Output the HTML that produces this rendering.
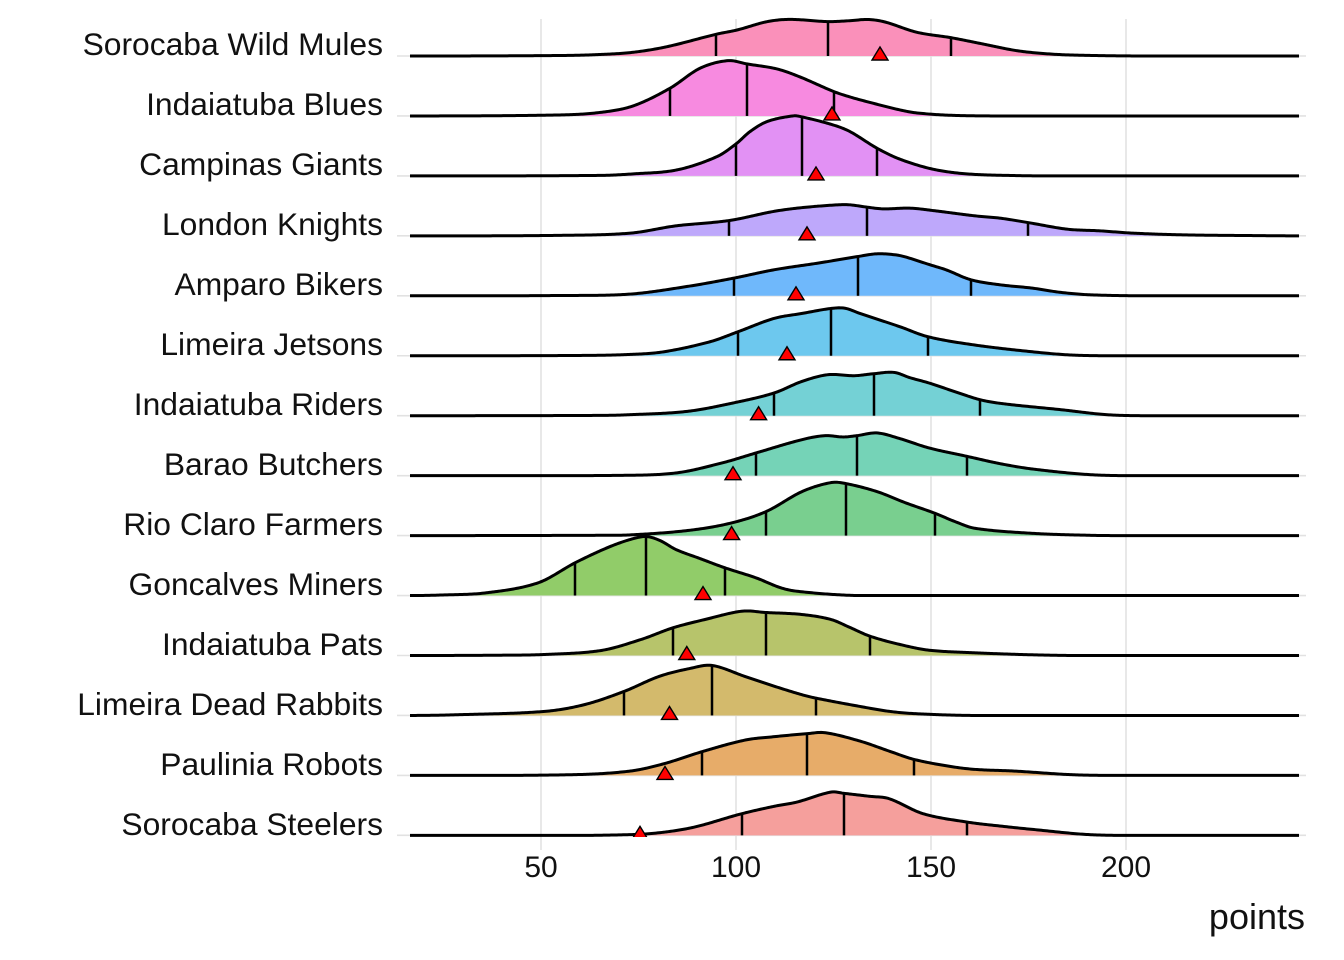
<!DOCTYPE html>
<html><head><meta charset="utf-8">
<style>
html,body{margin:0;padding:0;background:#fff}
svg{display:block}
text{font-family:"Liberation Sans",Arial,sans-serif;fill:#111}
</style></head>
<body>
<svg id="s" width="1344" height="960" viewBox="0 0 1344 960" xmlns="http://www.w3.org/2000/svg">
<defs><clipPath id="c"><rect x="0" y="0" width="1344" height="837"/></clipPath></defs>
<rect width="1344" height="960" fill="#fff"/>
<g stroke="#e2e2e2" stroke-width="1.6">
<line x1="541" y1="19" x2="541" y2="850"/>
<line x1="736" y1="19" x2="736" y2="850"/>
<line x1="931" y1="19" x2="931" y2="850"/>
<line x1="1126" y1="19" x2="1126" y2="850"/>
</g>
<g id="hg" stroke="#e2e2e2" stroke-width="1.6"></g>
<g id="ridges"></g>
<g id="pts" clip-path="url(#c)"></g>
<g font-size="31.8" text-anchor="end">
<text x="383" y="55">Sorocaba Wild Mules</text>
<text x="383" y="115">Indaiatuba Blues</text>
<text x="383" y="175">Campinas Giants</text>
<text x="383" y="235">London Knights</text>
<text x="383" y="295">Amparo Bikers</text>
<text x="383" y="355">Limeira Jetsons</text>
<text x="383" y="415">Indaiatuba Riders</text>
<text x="383" y="475">Barao Butchers</text>
<text x="383" y="535">Rio Claro Farmers</text>
<text x="383" y="595">Goncalves Miners</text>
<text x="383" y="655">Indaiatuba Pats</text>
<text x="383" y="715">Limeira Dead Rabbits</text>
<text x="383" y="775">Paulinia Robots</text>
<text x="383" y="835">Sorocaba Steelers</text>
</g>
<g font-size="30" text-anchor="middle">
<text x="541" y="877">50</text>
<text x="736" y="877">100</text>
<text x="931" y="877">150</text>
<text x="1126" y="877">200</text>
</g>
<text x="1305" y="929" font-size="36" text-anchor="end">points</text>
</svg>
<script>
(function(){
var NS="http://www.w3.org/2000/svg";
var rows=[
{c:"#FA90BA",p:[[410,0],[560,0.5],[600,1.5],[633,3.7],[667,9.3],[716,21.7],[737,26],[767,34.3],[790,36.6],[828,34.4],[850,35.3],[868,36.5],[885,34],[917,23.7],[951,18.3],[983,12],[1017,5.3],[1050,2],[1083,0.7],[1150,0],[1299,0]],q:[716,828,951],m:880},
{c:"#F78AE0",p:[[410,0],[560,1],[600,3.5],[633,10],[670,27.7],[700,47.7],[728,55.3],[747,52],[777,47],[800,39],[834,24.3],[850,19],[867,14.3],[900,6],[917,3],[950,0.7],[1000,0],[1299,0]],q:[670,747,834],m:832},
{c:"#E291F4",p:[[410,0],[600,0.5],[633,2],[677,6],[717,19.3],[736,32],[750,44.3],[767,54.3],[793,60],[802,59],[833,51],[850,44.3],[877,27.7],[900,16.7],[933,6.7],[967,2],[1017,0.3],[1060,0],[1299,0]],q:[736,802,877],m:816},
{c:"#BEA8FB",p:[[410,0],[560,0.5],[630,2.7],[676,10],[729,15.3],[773,24.3],[800,28],[837,31],[850,31],[867,28.7],[883,27],[910,27.7],[933,25.3],[975,20],[1000,17.7],[1028,13.3],[1067,6.7],[1100,5],[1133,2.7],[1183,1],[1250,0.3],[1299,0]],q:[729,867,1028],m:807},
{c:"#6FB8FB",p:[[410,0],[560,0.3],[630,1.7],[687,9.3],[734,17.7],[774,26],[820,33],[858,39.3],[877,42],[895,41],[906,38.7],[930,31],[946,26],[971,16],[1000,11],[1032,7.7],[1060,3.5],[1090,1],[1150,0],[1299,0]],q:[734,858,971],m:796},
{c:"#6DC8EE",p:[[410,0],[580,0.3],[630,1.3],[664,4],[710,14],[738,24],[774,37.3],[802,42.3],[831,47.3],[845,47.5],[860,42.3],[900,29],[928,19],[975,10.7],[1032,4],[1072,0.7],[1120,0],[1299,0]],q:[738,831,928],m:787},
{c:"#74D1D5",p:[[410,0],[600,0.3],[630,1],[687,4.3],[733,12.7],[774,22.7],[802,34.3],[828,41],[854,40],[874,42],[894,43.3],[910,38],[929,32.7],[955,24],[980,16],[1003,12],[1061,6],[1107,1],[1150,0],[1299,0]],q:[774,874,980],m:758.6},
{c:"#75D3B7",p:[[410,0],[620,0.3],[676,2.7],[722,12.7],[756,22.7],[802,36],[825,40],[843,38.7],[857,40],[877,42.7],[900,37],[929,27.7],[967,19.3],[1000,12],[1032,6.7],[1090,1],[1140,0],[1299,0]],q:[756,857,967],m:733},
{c:"#79CF8F",p:[[410,0],[600,0.3],[630,0.7],[687,5],[730,12.3],[766,24],[802,44],[831,53],[846,52],[877,44],[905,33],[935,22.3],[955,14],[975,7.3],[1032,2.3],[1090,0.3],[1130,0],[1299,0]],q:[766,846,935],m:731.6},
{c:"#91CC69",p:[[410,0],[440,0.5],[486,2.7],[538,12.7],[575,32.7],[607,47.7],[630,56],[646,59],[660,55],[676,46],[700,37],[725,27.7],[756,17.7],[780,8],[797,4.3],[848,0.3],[900,0],[1299,0]],q:[575,646,725],m:703},
{c:"#B7C46B",p:[[410,0],[500,0.3],[544,1],[601,5],[641,16],[673,27.7],[705,36],[742,44.3],[766,43],[802,41],[831,36],[850,28],[870,19.3],[900,11],[929,5.3],[975,2.7],[1032,0.7],[1080,0],[1299,0]],q:[673,766,870],m:686.8},
{c:"#D3BA6C",p:[[410,0],[457,0.7],[544,4],[584,10.7],[624,24],[659,39],[690,47],[712,50],[745,39],[775,29],[802,20.7],[816,17.3],[860,9],[890,4],[917,1.7],[975,0],[1299,0]],q:[624,712,816],m:669.5},
{c:"#E7AC69",p:[[410,0],[572,0.7],[630,4.3],[664,11.7],[702,23.7],[745,35.3],[774,38.7],[807,41.7],[825,42.7],[860,34.3],[890,24],[914,16],[950,9],[975,6],[1015,4.3],[1072,0.7],[1120,0],[1299,0]],q:[702,807,914],m:665},
{c:"#F59F9C",p:[[410,0],[630,0.7],[687,6.7],[742,21.7],[774,29],[797,33.3],[831,43.3],[844,42],[870,39],[889,36.7],[923,21.7],[967,13.3],[1003,9],[1032,6],[1090,0.7],[1150,0],[1299,0]],q:[742,844,967],m:640}
];
function spl(P){
  var n=P.length,xs=[],ys=[],d=[],t=[],i;
  for(i=0;i<n;i++){xs.push(P[i][0]);ys.push(P[i][1]);}
  for(i=0;i<n-1;i++){d[i]=xs[i+1]-xs[i];}
  t[0]=0;t[n-1]=0;
  for(i=1;i<n-1;i++){
    t[i]=(ys[i+1]-ys[i-1])/(xs[i+1]-xs[i-1]);
    if(ys[i]<0.05)t[i]=0;
  }
  return function(x){
    if(x<=xs[0])return ys[0];
    if(x>=xs[n-1])return ys[n-1];
    var k=0;while(k<n-2&&x>xs[k+1])k++;
    var h=d[k],s=(x-xs[k])/h,s2=s*s,s3=s2*s;
    var v=(2*s3-3*s2+1)*ys[k]+(s3-2*s2+s)*h*t[k]+(-2*s3+3*s2)*ys[k+1]+(s3-s2)*h*t[k+1];
    return v<0?0:v;
  };
}
function el(tag,attrs,parent){var e=document.createElementNS(NS,tag);for(var a in attrs)e.setAttribute(a,attrs[a]);parent.appendChild(e);return e;}
var R=document.getElementById("ridges"),PT=document.getElementById("pts"),HG=document.getElementById("hg");
for(var i=0;i<rows.length;i++){
  var b=56+59.95*i;
  el("line",{x1:397,y1:b,x2:1306,y2:b},HG);
}
for(var i=0;i<rows.length;i++){
  var r=rows[i],b=56+59.95*i,f=spl(r.p);
  var pts=[];
  for(var x=410;x<=1299;x+=1.5){pts.push(x.toFixed(1)+","+(b-f(x)).toFixed(2));}
  pts.push("1299,"+(b-f(1299)).toFixed(2));
  el("path",{d:"M410,"+b+" L"+pts.join(" L")+" L1299,"+b+" Z",fill:r.c,stroke:"none"},R);
  for(var j=0;j<r.q.length;j++){
    var qx=r.q[j];
    el("line",{x1:qx,y1:b,x2:qx,y2:(b-f(qx)).toFixed(2),stroke:"#000","stroke-width":2.5},R);
  }
  el("path",{d:"M"+pts.join(" L"),fill:"none",stroke:"#000","stroke-width":3,"stroke-linejoin":"round"},R);
}
for(var i=0;i<rows.length;i++){
  var r=rows[i],b=56+59.95*i,mx=r.m;
  el("polygon",{points:(mx-8)+","+(b+4)+" "+(mx+8)+","+(b+4)+" "+mx+","+(b-9),fill:"#FF0000",stroke:"#000","stroke-width":1.4,"stroke-linejoin":"miter"},PT);
}
})();
</script>
</body></html>
